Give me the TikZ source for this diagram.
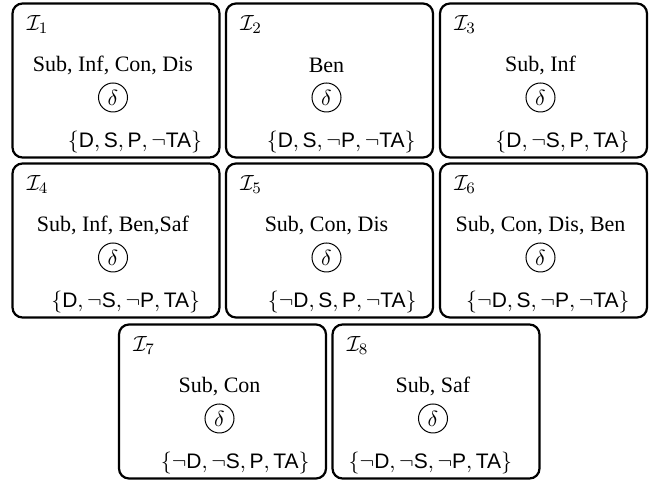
\documentclass[tikz,border=0pt]{standalone}
\usepackage{fontspec}
\setmainfont{Liberation Serif}
\setsansfont{Liberation Sans}
\begin{document}
\begin{tikzpicture}[x=0.5pt,y=-0.5pt,
  panel/.style={draw, line width=1.1pt, rounded corners=5pt, minimum width=103.5pt, minimum height=77pt, inner sep=0pt},
  lab/.style={inner sep=0pt, font=\fontsize{11}{13}\selectfont},
  ttl/.style={inner sep=0pt, font=\fontsize{11}{13}\selectfont},
  dcirc/.style={draw, circle, line width=0.5pt, minimum size=14.5pt, inner sep=0pt, font=\fontsize{11}{13}\selectfont},
  setn/.style={inner sep=0pt, font=\fontsize{10.5}{12}\selectfont}]
\useasboundingbox (0,0) rectangle (655,485);
\newcommand\mypanel[7]{%
  \node[panel] (#1) at ({#2+103.5},{#3+77}) {};
  \node[lab, anchor=west] (#1l) at ({#2+14},{#3+21}) {$\mathcal{I}_{#4}$};
  \node[ttl] (#1t) at ({#2+100.5},{#3+62}) {#5};
  \node[dcirc] (#1c) at ({#2+100.5},{#3+94}) {$\delta$};
  \node[setn, anchor=east] (#1s) at ({#2+207-#7},{#3+139}) {#6};
}
\mypanel{p1}{12.5}{3.5}{1}{Sub, Inf, Con, Dis}{$\{\textsf{D}, \textsf{S}, \textsf{P}, \neg\textsf{TA}\}$}{17}
\mypanel{p2}{226}{3.5}{2}{Ben}{$\{\textsf{D}, \textsf{S}, \neg\textsf{P}, \neg\textsf{TA}\}$}{17}
\mypanel{p3}{440}{3.5}{3}{Sub, Inf}{$\{\textsf{D}, \neg\textsf{S}, \textsf{P}, \textsf{TA}\}$}{17}
\mypanel{p4}{12.5}{163.5}{4}{Sub, Inf, Ben,Saf}{$\{\textsf{D}, \neg\textsf{S}, \neg\textsf{P}, \textsf{TA}\}$}{19}
\mypanel{p5}{226}{163.5}{5}{Sub, Con, Dis}{$\{\neg\textsf{D}, \textsf{S}, \textsf{P}, \neg\textsf{TA}\}$}{16}
\mypanel{p6}{440}{163.5}{6}{Sub, Con, Dis, Ben}{$\{\neg\textsf{D}, \textsf{S}, \neg\textsf{P}, \neg\textsf{TA}\}$}{17}
\mypanel{p7}{119}{324.5}{7}{Sub, Con}{$\{\neg\textsf{D}, \neg\textsf{S}, \textsf{P}, \textsf{TA}\}$}{16}
\mypanel{p8}{332.5}{324.5}{8}{Sub, Saf}{$\{\neg\textsf{D}, \neg\textsf{S}, \neg\textsf{P}, \textsf{TA}\}$}{27}
\end{tikzpicture}
\end{document}
